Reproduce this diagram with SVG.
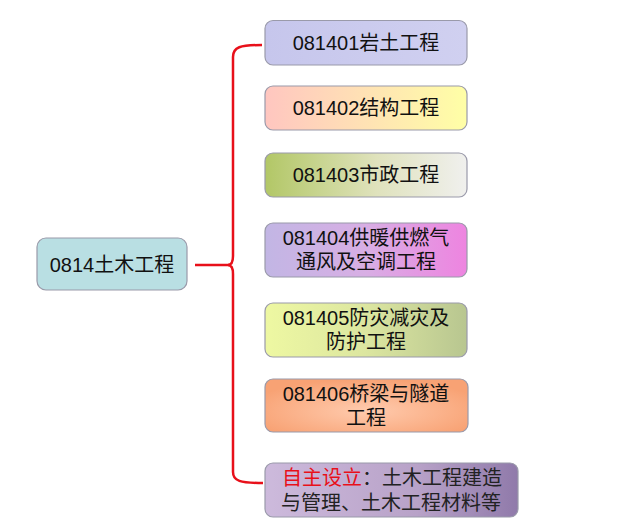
<svg xmlns="http://www.w3.org/2000/svg" width="640" height="529" viewBox="0 0 640 529">
<defs>
<style>
.box{stroke:#9a9aaa;stroke-width:1.2}
.t{font-family:"Liberation Sans","Noto Sans CJK SC",sans-serif;font-size:20px;fill:#111;text-anchor:middle}
.l{font-family:"Liberation Sans","Noto Sans CJK SC",sans-serif;font-size:20px;fill:#222}
.red{fill:#e8101a}
.conn{fill:none;stroke:#e8101a;stroke-width:2.5}
</style>
<linearGradient id="g1" x1="0" y1="0" x2="1" y2="0"><stop offset="0" stop-color="#c6c6ec"/><stop offset="1" stop-color="#d0d0f0"/></linearGradient>
<linearGradient id="g2" x1="0" y1="0" x2="1" y2="0"><stop offset="0" stop-color="#ffc6c0"/><stop offset="0.5" stop-color="#ffe2b4"/><stop offset="1" stop-color="#ffffa6"/></linearGradient>
<linearGradient id="g3" x1="0" y1="0" x2="1" y2="0"><stop offset="0" stop-color="#b2c766"/><stop offset="0.55" stop-color="#dfe2bc"/><stop offset="1" stop-color="#f0f0ee"/></linearGradient>
<linearGradient id="g4" x1="0" y1="0" x2="1" y2="0"><stop offset="0" stop-color="#c2b6e4"/><stop offset="0.5" stop-color="#d8aee4"/><stop offset="1" stop-color="#ee84e0"/></linearGradient>
<linearGradient id="g5" x1="0" y1="0" x2="1" y2="0"><stop offset="0" stop-color="#eef8a2"/><stop offset="0.5" stop-color="#dce6a0"/><stop offset="1" stop-color="#b8c690"/></linearGradient>
<radialGradient id="g6" cx="0.5" cy="0.6" r="0.6"><stop offset="0" stop-color="#ffcbae"/><stop offset="1" stop-color="#f8a274"/></radialGradient>
<linearGradient id="g7" x1="0" y1="0" x2="1" y2="0"><stop offset="0" stop-color="#cdbadc"/><stop offset="0.6" stop-color="#b8a2c8"/><stop offset="1" stop-color="#907aaa"/></linearGradient>
</defs>
<rect width="640" height="529" fill="#ffffff"/>
<g id="connectors">
<path class="conn" d="M195,265 L230,265"/>
<path class="conn" d="M262,45 C240,45 233,47 233,57 L233,256 C233,262 231,265 228,265 C231,265 233,268 233,274 L233,472 C233,481 240,483 263,483"/>
</g>
<g id="root">
<rect class="box" x="37" y="238" width="150" height="52" rx="9" fill="#b9dfe3" stroke="#92b6bd"/>
<text class="t" x="112" y="272">0814土木工程</text>
</g>
<g id="n1">
<rect class="box" x="265" y="20.5" width="202" height="44.5" rx="8" fill="url(#g1)"/>
<text class="t" x="366" y="50">081401岩土工程</text>
</g>
<g id="n2">
<rect class="box" x="265" y="86" width="202" height="44" rx="8" fill="url(#g2)"/>
<text class="t" x="366" y="115">081402结构工程</text>
</g>
<g id="n3">
<rect class="box" x="265" y="153" width="202" height="44" rx="8" fill="url(#g3)"/>
<text class="t" x="366" y="182">081403市政工程</text>
</g>
<g id="n4">
<rect class="box" x="265" y="223" width="202" height="54" rx="8" fill="url(#g4)"/>
<text class="t" x="366" y="245">081404供暖供燃气</text>
<text class="t" x="366" y="269">通风及空调工程</text>
</g>
<g id="n5">
<rect class="box" x="265" y="303" width="202" height="54" rx="8" fill="url(#g5)"/>
<text class="t" x="366" y="325">081405防灾减灾及</text>
<text class="t" x="366" y="349">防护工程</text>
</g>
<g id="n6">
<rect class="box" x="265" y="379" width="203" height="53" rx="8" fill="url(#g6)"/>
<text class="t" x="366" y="401">081406桥梁与隧道</text>
<text class="t" x="366" y="425">工程</text>
</g>
<g id="n7">
<rect class="box" x="265" y="463" width="253" height="54" rx="8" fill="url(#g7)"/>
<text class="l" x="282" y="485"><tspan class="red">自主设立</tspan>：土木工程建造</text>
<text class="l" x="281" y="510">与管理、土木工程材料等</text>
</g>
</svg>
